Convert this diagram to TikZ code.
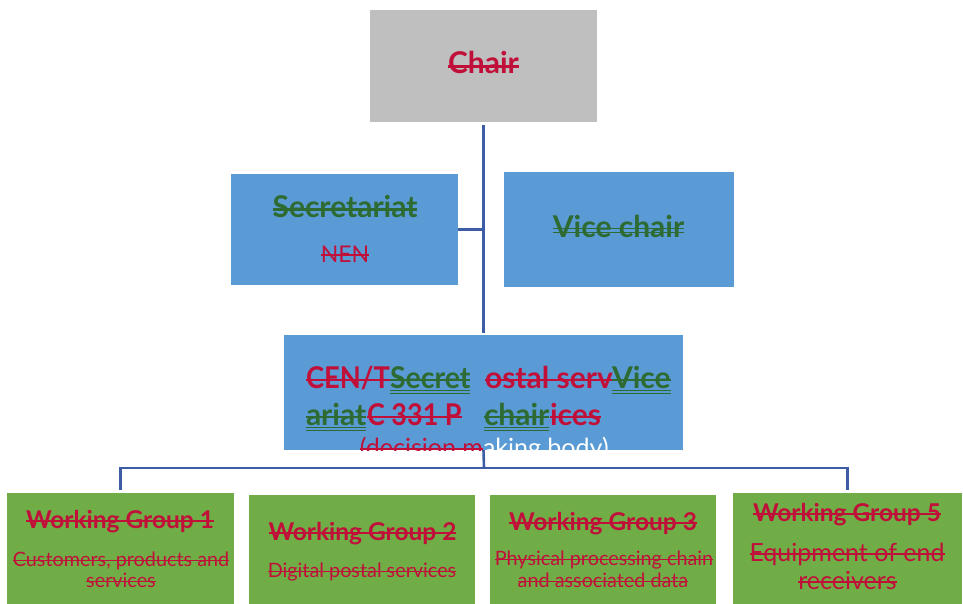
\documentclass[tikz,border=0pt]{standalone}
\usepackage{fontspec}
\setmainfont{Lato}
\definecolor{rd}{HTML}{C0103A}
\definecolor{gn}{HTML}{2D6B32}
\definecolor{bluebox}{HTML}{5B9BD5}
\definecolor{greenbox}{HTML}{70AD47}
\definecolor{graybox}{HTML}{BFBFBF}
\definecolor{conncol}{HTML}{3C5DA6}
\newcommand\strikeit[4]{\draw[#2,line width=#4] ([yshift=#3]#1.base west) -- ([yshift=#3]#1.base east);}
\newcommand\ulineit[3]{\draw[#2,line width=1.5pt] ([yshift=#3]#1.base west) -- ([yshift=#3]#1.base east);}
\tikzset{
  box/.style={inner sep=0pt,draw=none},
  txt/.style={inner sep=0pt,outer sep=0pt},
  conn/.style={draw=conncol,line width=2.6pt},
  bigb/.style={font=\fontsize{30}{34}\selectfont\bfseries},
  cenb/.style={font=\fontsize{30}{34}\selectfont\bfseries},
  wgt/.style={font=\fontsize{24.5}{28}\selectfont\bfseries},
  wgs/.style={font=\fontsize{19.8}{22}\selectfont},
  wgl/.style={font=\fontsize{25}{28}\selectfont},
}
\begin{document}
\begin{tikzpicture}[x=1pt,y=-1pt]
\useasboundingbox (0,0) rectangle (963,604);
% boxes
\node[box,fill=graybox,minimum width=227pt,minimum height=112pt] (chair) at (483.5,66) {};
\node[box,fill=bluebox,minimum width=227pt,minimum height=111pt] (sec) at (344.5,229.5) {};
\node[box,fill=bluebox,minimum width=230pt,minimum height=115pt] (vice) at (619,229.5) {};
\node[box,fill=bluebox,minimum width=399pt,minimum height=115pt] (cen) at (483.5,392.5) {};
\node[box,fill=greenbox,minimum width=227pt,minimum height=111pt] (wg1) at (120.5,548.5) {};
\node[box,fill=greenbox,minimum width=226pt,minimum height=109pt] (wg2) at (362,549.5) {};
\node[box,fill=greenbox,minimum width=226pt,minimum height=109pt] (wg3) at (603,549.5) {};
\node[box,fill=greenbox,minimum width=229pt,minimum height=111pt] (wg5) at (847.5,548.5) {};
% connectors
\coordinate (bus) at (484,468);
\draw[conn,shorten <=3pt,shorten >=2pt] (chair.south) -- (cen.north);
\draw[conn] (sec.east) -- (sec.east -| chair.south);
\draw[conn] (cen.south) -- (bus);
\draw[conn,shorten <=3pt,shorten >=3pt] (wg1.north) -- (wg1.north |- bus) -- (wg5.north |- bus) -- (wg5.north);
% Chair
\node[txt,bigb,text=rd,anchor=base] (tchair) at (483.5,74) {Chair};
\strikeit{tchair}{rd}{7.5pt}{2.2pt}
% Secretariat
\node[txt,bigb,text=gn,anchor=base] (tsec) at (345,217) {Secretariat};
\strikeit{tsec}{gn}{7.5pt}{2.6pt}
\node[txt,font=\fontsize{23}{26}\selectfont,text=rd,anchor=base] (tnen) at (345,262) {NEN};
\strikeit{tnen}{rd}{7pt}{1.6pt}
% Vice chair
\node[txt,bigb,text=gn,anchor=base] (tvice) at (618.5,237) {Vice chair};
\strikeit{tvice}{gn}{8.5pt}{1.6pt}
\strikeit{tvice}{gn}{4.5pt}{1.6pt}
% CEN box text
\node[txt,cenb,text=rd,anchor=base west,xscale=0.91] (c1a) at (306,388) {CEN/T};
\node[txt,cenb,text=gn,anchor=base west,xscale=0.95] (c1b) at (390,388) {Secret};
\node[txt,cenb,text=rd,anchor=base west] (c1c) at (485,388) {ostal serv};
\node[txt,cenb,text=gn,anchor=base west] (c1d) at (612,388) {Vice};
\node[txt,cenb,text=gn,anchor=base west] (c2a) at (306,425) {ariat};
\node[txt,cenb,text=rd,anchor=base west,xscale=0.9] (c2b) at (367,425) {C 331 P};
\node[txt,cenb,text=gn,anchor=base west] (c2c) at (484,425) {chair};
\node[txt,cenb,text=rd,anchor=base west] (c2d) at (550,425) {ices};
\foreach \n/\c in {c1a/rd,c1b/gn,c1c/rd,c1d/gn,c2a/gn,c2b/rd,c2c/gn,c2d/rd}{\strikeit{\n}{\c}{8pt}{2.2pt}}
\foreach \n in {c1b,c1d,c2a,c2c}{\ulineit{\n}{gn}{-2.5pt}\ulineit{\n}{gn}{-5.5pt}}
\begin{scope}
\clip (cen.south west) rectangle (cen.north east);
\node[txt,font=\fontsize{25}{28}\selectfont,text=rd,anchor=base east] (c3a) at (483,456) {(decision m};
\node[txt,font=\fontsize{25}{28}\selectfont,text=white,anchor=base west] (c3b) at (c3a.base east) {aking body)};
\strikeit{c3a}{rd}{7pt}{1.6pt}
\end{scope}
% Working groups
\node[txt,wgt,text=rd,anchor=base] (t1) at (120,528) {Working Group 1};
\strikeit{t1}{rd}{7pt}{2pt}
\node[txt,wgs,text=rd,anchor=base] (s1a) at (121,566) {Customers, products and};
\strikeit{s1a}{rd}{5.5pt}{1.5pt}
\node[txt,wgs,text=rd,anchor=base] (s1b) at (121,587) {services};
\strikeit{s1b}{rd}{5.5pt}{1.5pt}
\node[txt,wgt,text=rd,anchor=base] (t2) at (362.5,540) {Working Group 2};
\strikeit{t2}{rd}{7pt}{2pt}
\node[txt,wgs,text=rd,anchor=base] (s2a) at (362,577) {Digital postal services};
\strikeit{s2a}{rd}{5.5pt}{1.5pt}
\node[txt,wgt,text=rd,anchor=base] (t3) at (603,530) {Working Group 3};
\strikeit{t3}{rd}{7pt}{2pt}
\node[txt,wgs,text=rd,anchor=base] (s3a) at (604,565) {Physical processing chain};
\strikeit{s3a}{rd}{5.5pt}{1.5pt}
\node[txt,wgs,text=rd,anchor=base] (s3b) at (603,587) {and associated data};
\strikeit{s3b}{rd}{5.5pt}{1.5pt}
\node[txt,wgt,text=rd,anchor=base] (t5) at (847,521) {Working Group 5};
\strikeit{t5}{rd}{7pt}{2pt}
\node[txt,wgl,text=rd,anchor=base] (s5a) at (847,561) {Equipment of end};
\strikeit{s5a}{rd}{7pt}{1.8pt}
\node[txt,wgl,text=rd,anchor=base] (s5b) at (847.5,589) {receivers};
\strikeit{s5b}{rd}{7pt}{1.8pt}
\end{tikzpicture}
\end{document}
